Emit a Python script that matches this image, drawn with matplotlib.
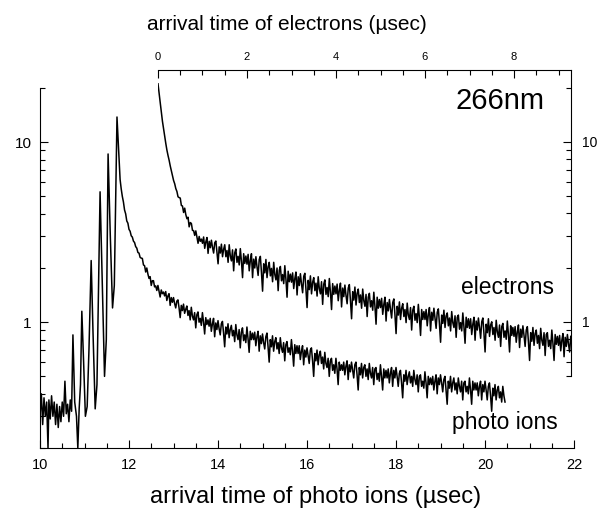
import numpy as np
import matplotlib
matplotlib.use("Agg")
import matplotlib.pyplot as plt
from matplotlib.ticker import FixedLocator, MultipleLocator, LogLocator, NullFormatter

plt.rcParams['font.family'] = ['Liberation Sans', 'DejaVu Sans']

# photo ions: rising peak train (irregular sample times)
ion_rise_t = [10.00, 10.03, 10.06, 10.09, 10.12, 10.15, 10.18, 10.20, 10.23, 10.26,
              10.29, 10.32, 10.35, 10.38, 10.41, 10.44, 10.47, 10.50, 10.53, 10.56,
              10.59, 10.62, 10.65, 10.68, 10.71, 10.74, 10.78, 10.82, 10.85, 10.88,
              10.91, 10.94, 10.98, 11.02, 11.06, 11.10, 11.15, 11.19, 11.24, 11.28,
              11.35, 11.40, 11.45, 11.49, 11.53, 11.58, 11.63, 11.67, 11.73]
ion_rise_v = [0.30, 0.40, 0.27, 0.38, 0.30, 0.36, 0.20, 0.37, 0.29, 0.39,
              0.30, 0.36, 0.27, 0.35, 0.26, 0.34, 0.28, 0.36, 0.30, 0.47,
              0.31, 0.35, 0.28, 0.37, 0.32, 0.85, 0.36, 0.30, 0.20, 0.33,
              0.45, 1.15, 0.60, 0.30, 0.34, 0.70, 2.2, 0.90, 0.33, 0.45,
              5.3, 1.6, 0.50, 0.80, 8.6, 3.0, 1.2, 1.6, 13.8]

# photo ions: decay, sampled every 0.025 usec from 11.80 (one row = 0.5 usec)
ion_decay_t0 = 11.80
ion_decay_v = [
    6.2, 5.5, 5.0, 4.65, 4.2, 4.0, 3.65, 3.55, 3.28, 3.2, 3.02, 2.97, 2.82, 2.77, 2.63, 2.58, 2.44, 2.42, 2.29, 2.27,
    2.26, 2.08, 2.06, 1.90, 2.00, 1.85, 1.75, 1.79, 1.60, 1.70, 1.70, 1.57, 1.59, 1.50, 1.60, 1.49, 1.38, 1.51, 1.44, 1.47,
    1.40, 1.48, 1.32, 1.40, 1.44, 1.24, 1.37, 1.29, 1.37, 1.27, 1.20, 1.31, 1.33, 1.20, 1.06, 1.24, 1.16, 1.26, 1.12, 1.18,
    1.23, 1.09, 1.16, 1.03, 1.21, 1.08, 1.03, 1.13, 0.93, 1.10, 1.14, 1.00, 1.05, 0.96, 1.13, 1.00, 0.86, 1.06, 0.97, 1.03,
    0.95, 1.05, 0.89, 0.98, 1.05, 0.83, 0.99, 0.91, 1.02, 0.92, 0.85, 0.98, 1.01, 0.87, 0.73, 0.94, 0.86, 0.98, 0.82, 0.91,
    0.96, 0.84, 0.90, 0.78, 0.97, 0.85, 0.80, 0.91, 0.72, 0.88, 0.93, 0.79, 0.85, 0.77, 0.94, 0.81, 0.68, 0.89, 0.80, 0.87,
    0.80, 0.88, 0.74, 0.83, 0.89, 0.69, 0.84, 0.76, 0.86, 0.77, 0.71, 0.83, 0.87, 0.73, 0.60, 0.80, 0.73, 0.84, 0.69, 0.78,
    0.82, 0.71, 0.77, 0.67, 0.82, 0.72, 0.68, 0.77, 0.61, 0.75, 0.78, 0.68, 0.72, 0.66, 0.80, 0.69, 0.57, 0.75, 0.67, 0.74,
    0.67, 0.74, 0.62, 0.69, 0.74, 0.58, 0.70, 0.64, 0.72, 0.65, 0.59, 0.70, 0.72, 0.61, 0.50, 0.67, 0.61, 0.70, 0.58, 0.66,
    0.69, 0.59, 0.64, 0.55, 0.68, 0.59, 0.56, 0.63, 0.50, 0.61, 0.63, 0.54, 0.58, 0.52, 0.63, 0.55, 0.45, 0.60, 0.54, 0.58,
    0.54, 0.60, 0.51, 0.57, 0.61, 0.48, 0.58, 0.53, 0.60, 0.54, 0.49, 0.58, 0.60, 0.51, 0.42, 0.56, 0.51, 0.59, 0.49, 0.56,
    0.58, 0.50, 0.55, 0.48, 0.59, 0.52, 0.49, 0.56, 0.45, 0.55, 0.56, 0.48, 0.52, 0.47, 0.58, 0.50, 0.42, 0.55, 0.49, 0.54,
    0.49, 0.55, 0.46, 0.52, 0.56, 0.44, 0.54, 0.49, 0.56, 0.50, 0.44, 0.52, 0.54, 0.46, 0.38, 0.51, 0.47, 0.54, 0.45, 0.50,
    0.53, 0.46, 0.50, 0.44, 0.54, 0.48, 0.45, 0.51, 0.41, 0.50, 0.51, 0.44, 0.47, 0.43, 0.53, 0.46, 0.38, 0.50, 0.45, 0.49,
    0.45, 0.50, 0.42, 0.47, 0.51, 0.40, 0.49, 0.45, 0.51, 0.46, 0.41, 0.48, 0.50, 0.42, 0.35, 0.47, 0.43, 0.50, 0.41, 0.46,
    0.49, 0.42, 0.46, 0.40, 0.49, 0.44, 0.41, 0.47, 0.37, 0.46, 0.47, 0.41, 0.44, 0.40, 0.49, 0.42, 0.35, 0.47, 0.42, 0.46,
    0.42, 0.46, 0.39, 0.44, 0.47, 0.37, 0.45, 0.41, 0.47, 0.42, 0.37, 0.44, 0.46, 0.39, 0.32, 0.43, 0.39, 0.45, 0.37, 0.42,
    0.44, 0.38, 0.41, 0.36, 0.44, 0.39, 0.36,
]

# electrons, sampled every 0.025 usec from 0 (one row = 0.5 usec)
el_t0 = 0.0
el_v = [
    21.0, 18.5, 16.5, 14.6, 13.0, 11.8, 10.8, 9.8, 9.0, 8.4, 7.9, 7.35, 6.9, 6.45, 6.1, 5.85, 5.5, 5.3, 4.95, 4.9,
    4.87, 4.43, 4.40, 4.05, 4.28, 3.94, 3.74, 3.81, 3.37, 3.56, 3.52, 3.22, 3.21, 3.02, 3.20, 2.96, 2.73, 2.98, 2.80, 2.88,
    2.73, 2.96, 2.56, 2.78, 2.94, 2.40, 2.80, 2.58, 2.84, 2.59, 2.41, 2.75, 2.81, 2.44, 2.10, 2.61, 2.41, 2.70, 2.30, 2.53,
    2.68, 2.30, 2.49, 2.14, 2.68, 2.32, 2.18, 2.51, 1.92, 2.42, 2.54, 2.14, 2.31, 2.07, 2.55, 2.17, 1.76, 2.39, 2.11, 2.32,
    2.09, 2.37, 1.92, 2.19, 2.39, 1.76, 2.23, 1.99, 2.30, 2.02, 1.81, 2.22, 2.31, 1.88, 1.48, 2.10, 1.87, 2.22, 1.76, 2.02,
    2.14, 1.80, 1.98, 1.67, 2.14, 1.83, 1.71, 1.99, 1.49, 1.93, 2.03, 1.69, 1.83, 1.63, 2.05, 1.72, 1.37, 1.91, 1.67, 1.84,
    1.66, 1.87, 1.53, 1.74, 1.89, 1.41, 1.78, 1.59, 1.85, 1.62, 1.45, 1.79, 1.86, 1.51, 1.20, 1.70, 1.51, 1.80, 1.43, 1.66,
    1.76, 1.49, 1.64, 1.39, 1.78, 1.53, 1.43, 1.67, 1.25, 1.62, 1.71, 1.42, 1.55, 1.38, 1.74, 1.46, 1.17, 1.63, 1.42, 1.58,
    1.43, 1.62, 1.31, 1.50, 1.64, 1.21, 1.54, 1.38, 1.60, 1.40, 1.26, 1.54, 1.61, 1.31, 1.04, 1.47, 1.32, 1.56, 1.24, 1.44,
    1.52, 1.28, 1.41, 1.19, 1.52, 1.31, 1.22, 1.42, 1.07, 1.37, 1.44, 1.21, 1.31, 1.16, 1.46, 1.22, 0.97, 1.37, 1.19, 1.33,
    1.20, 1.35, 1.10, 1.25, 1.37, 1.01, 1.28, 1.15, 1.33, 1.17, 1.05, 1.28, 1.34, 1.09, 0.86, 1.22, 1.09, 1.29, 1.03, 1.19,
    1.26, 1.07, 1.17, 0.99, 1.27, 1.09, 1.03, 1.20, 0.90, 1.16, 1.22, 1.02, 1.11, 0.99, 1.25, 1.05, 0.84, 1.17, 1.03, 1.14,
    1.03, 1.17, 0.95, 1.10, 1.20, 0.89, 1.13, 1.02, 1.19, 1.04, 0.92, 1.13, 1.18, 0.97, 0.77, 1.09, 0.98, 1.16, 0.93, 1.08,
    1.12, 0.95, 1.05, 0.89, 1.14, 0.99, 0.93, 1.08, 0.82, 1.06, 1.09, 0.91, 0.99, 0.89, 1.12, 0.94, 0.76, 1.06, 0.93, 1.04,
    0.92, 1.04, 0.85, 0.97, 1.06, 0.79, 1.01, 0.90, 1.05, 0.93, 0.81, 1.00, 1.05, 0.86, 0.68, 0.97, 0.87, 1.04, 0.83, 0.96,
    1.00, 0.85, 0.93, 0.79, 1.02, 0.88, 0.82, 0.96, 0.73, 0.94, 0.98, 0.82, 0.89, 0.80, 1.01, 0.85, 0.68, 0.95, 0.84, 0.93,
    0.83, 0.94, 0.77, 0.88, 0.96, 0.72, 0.91, 0.82, 0.95, 0.84, 0.73, 0.90, 0.94, 0.77, 0.61, 0.87, 0.78, 0.93, 0.74, 0.86,
    0.90, 0.76, 0.84, 0.71, 0.92, 0.79, 0.74, 0.87, 0.65, 0.85, 0.87, 0.73, 0.79, 0.71, 0.90, 0.76, 0.61, 0.85, 0.75, 0.83,
    0.74, 0.84, 0.69, 0.79, 0.86, 0.64, 0.82, 0.73, 0.85, 0.75, 0.68, 0.83,
]
step = 0.025

ion_t = list(ion_rise_t) + list(ion_decay_t0 + step * np.arange(len(ion_decay_v)))
ion_v = list(ion_rise_v) + ion_decay_v
el_t = el_t0 + step * np.arange(len(el_v))

W, H = 600, 508
fig = plt.figure(figsize=(W / 100, H / 100), dpi=100)

# lower/left axes: photo ions
ax1 = fig.add_axes([40 / W, 1 - 448 / H, 534 / W, 360 / H])
ax1.plot(ion_t, ion_v, color='black', lw=1.1)
ax1.set_yscale('log')
ax1.set_xlim(10, 22)
ax1.set_ylim(0.2, 20)
ax1.spines['top'].set_visible(False)
ax1.spines['right'].set_visible(False)
ax1.xaxis.set_major_locator(MultipleLocator(2))
ax1.xaxis.set_minor_locator(MultipleLocator(0.5))
ax1.yaxis.set_major_locator(FixedLocator([1, 10]))
ax1.yaxis.set_minor_locator(LogLocator(subs=np.arange(2, 10)))
ax1.yaxis.set_minor_formatter(NullFormatter())
ax1.set_yticklabels(['1', '10'])
ax1.tick_params(axis='x', which='both', direction='in', labelsize=10.5, pad=7)
ax1.tick_params(axis='y', which='both', direction='in', labelsize=11, pad=6)
ax1.tick_params(which='major', length=6, width=0.8)
ax1.tick_params(which='minor', length=3.5, width=0.8)

# upper/right axes: electrons
ax2 = fig.add_axes([158 / W, 1 - 376 / H, 413 / W, 306 / H])
ax2.patch.set_visible(False)
ax2.plot(el_t, el_v, color='black', lw=1.1)
ax2.set_yscale('log')
ax2.set_xlim(0, 413 / 44.5)
ax2.set_ylim(0.5, 0.5 * 10 ** (306 / 180))
ax2.spines['bottom'].set_visible(False)
ax2.spines['left'].set_visible(False)
ax2.xaxis.tick_top()
ax2.yaxis.tick_right()
ax2.xaxis.set_major_locator(MultipleLocator(2))
ax2.xaxis.set_minor_locator(MultipleLocator(0.5))
ax2.yaxis.set_major_locator(FixedLocator([1, 10]))
ax2.yaxis.set_minor_locator(LogLocator(subs=np.arange(2, 10)))
ax2.yaxis.set_minor_formatter(NullFormatter())
ax2.set_yticklabels(['1', '10'])
ax2.tick_params(axis='x', which='both', direction='in', labelsize=8, pad=6)
ax2.tick_params(axis='y', which='both', direction='in', labelsize=10, pad=8)
ax2.tick_params(which='major', length=6, width=0.8)
ax2.tick_params(which='minor', length=3.5, width=0.8)

fig.text(287 / W, 1 - 25 / H, 'arrival time of electrons (µsec)', ha='center', va='center', fontsize=15)
fig.text(316 / W, 1 - 497 / H, 'arrival time of photo ions (µsec)', ha='center', va='center', fontsize=17)
fig.text(500 / W, 1 - 101 / H, '266nm', ha='center', va='center', fontsize=21)
fig.text(508 / W, 1 - 287 / H, 'electrons', ha='center', va='center', fontsize=16.5)
fig.text(505 / W, 1 - 423 / H, 'photo ions', ha='center', va='center', fontsize=16.5)

fig.savefig('out.png', dpi=100)
